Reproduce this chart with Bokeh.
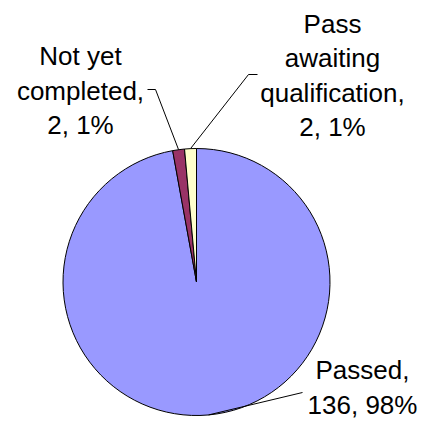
import math
from bokeh.plotting import figure
from bokeh.models import Range1d, ColumnDataSource
from bokeh.embed import file_html
from bokeh.resources import INLINE
from bokeh.core.properties import value

# ---- data ----
categories = ["Passed", "Not yet completed", "Pass awaiting qualification"]
counts = [136, 2, 2]
pct_labels = ["98%", "1%", "1%"]
label_texts = [f"{categories[0]},\n{counts[0]}, {pct_labels[0]}",
               "Not yet\ncompleted,\n" + f"{counts[1]}, {pct_labels[1]}",
               "Pass\nawaiting\nqualification,\n" + f"{counts[2]}, {pct_labels[2]}"]
colors = ["#9999FF", "#993366", "#FFFFCC"]

# ---- layout (pixel coordinates, y measured from top) ----
W, H = 428, 422
def Y(sy):
    return H - sy

CX, CY, R = 196, 281.5, 133.5
label_pos = [(362, 387), (80, 90), (332, 75)]
leader_elbow = [(302, 392), (155, 89), (248, 74)]
leader_end = [(302, 392), (147, 89), (257, 74)]

p = figure(width=W, height=H, x_range=Range1d(0, W), y_range=Range1d(0, H),
           output_backend="svg", toolbar_location=None, min_border=0)
p.axis.visible = False
p.grid.visible = False
p.outline_line_color = None
p.background_fill_color = "white"
p.border_fill_color = "white"

total = sum(counts)
starts, ends, mids = [], [], []
cum = 0
for c in counts:
    a0 = math.pi / 2 - 2 * math.pi * cum / total
    cum += c
    a1 = math.pi / 2 - 2 * math.pi * cum / total
    starts.append(a0)
    ends.append(a1)
    mids.append((a0 + a1) / 2)

src = ColumnDataSource(dict(x=[CX] * 3, y=[Y(CY)] * 3, start=starts, end=ends,
                            color=colors, cat=categories))
p.wedge(x="x", y="y", radius=R, start_angle="start", end_angle="end",
        direction="clock", fill_color="color", line_color="black", line_width=1,
        source=src)

# leader lines
xs, ys = [], []
for i, m in enumerate(mids):
    sx = CX + R * math.cos(m)
    sy = CY - R * math.sin(m)
    xs.append([sx, leader_elbow[i][0], leader_end[i][0]])
    ys.append([Y(sy), Y(leader_elbow[i][1]), Y(leader_end[i][1])])
p.multi_line(xs=xs, ys=ys, line_color="black", line_width=1)

p.text(x=[lp[0] for lp in label_pos], y=[Y(lp[1]) for lp in label_pos], text=label_texts,
       text_align="center", text_baseline="middle", text_font=value("Liberation Sans"),
       text_font_size="26px", text_line_height=1.15, text_color="black")

open("out.html", "w").write(file_html(p, INLINE))
